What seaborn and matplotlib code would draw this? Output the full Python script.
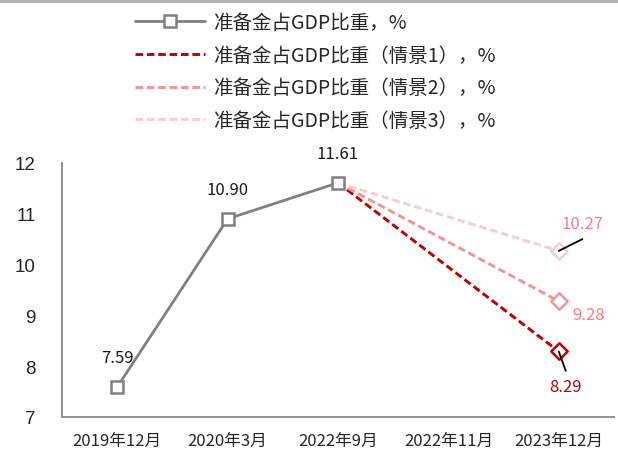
import matplotlib
matplotlib.use("Agg")
import matplotlib.pyplot as plt
from matplotlib.patches import Rectangle
import numpy as np
import pandas as pd
import seaborn as sns

# Periods on the x axis
periods = ["2019年12月", "2020年3月", "2022年9月", "2022年11月", "2023年12月"]

# Reserve gold as share of GDP (%), historical
actual_periods = ["2019年12月", "2020年3月", "2022年9月"]
actual_values = [7.59, 10.90, 11.61]

# Scenario projections for 2023年12月
scenario_names = ["准备金占GDP比重（情景1），%",
                  "准备金占GDP比重（情景2），%",
                  "准备金占GDP比重（情景3），%"]
scenario_end = [8.29, 9.28, 10.27]
scenario_start_period = "2022年9月"
scenario_end_period = "2023年12月"

actual_name = "准备金占GDP比重，%"

CJK = ["Noto Sans CJK SC", "DejaVu Sans"]

sns.set_theme(style="white")
plt.rcParams["font.family"] = CJK
plt.rcParams["axes.unicode_minus"] = False

pos = {p: i for i, p in enumerate(periods)}

df_actual = pd.DataFrame({
    "x": [pos[p] for p in actual_periods],
    "value": actual_values,
})

fig = plt.figure(figsize=(6.18, 4.52), dpi=100)
ax = fig.add_axes([62 / 618, 34 / 452, 552 / 618, 254 / 452])

line_colors = ["#c00000", "#f09494", "#f8cdcf"]
label_colors = ["#c00000", "#ff7c80", "#ff7c80"]
dash = (0, (2.6, 1.3))

# scenario lines (drawn from the last actual value to the projection)
for name, end, col in zip(scenario_names, scenario_end, line_colors):
    d = pd.DataFrame({
        "x": [pos[scenario_start_period], pos[scenario_end_period]],
        "value": [actual_values[-1], end],
    })
    sns.lineplot(data=d, x="x", y="value", ax=ax, color=col, linewidth=2.1,
                 linestyle=dash, label=name, zorder=3)
    sns.scatterplot(data=d.iloc[[1]], x="x", y="value", ax=ax, marker="D",
                    s=70, facecolor="white", edgecolor=col, linewidth=1.8,
                    zorder=5, legend=False)

# historical line
sns.lineplot(data=df_actual, x="x", y="value", ax=ax, color="#808080",
             linewidth=2.0, marker="s", markersize=9, markerfacecolor="white",
             markeredgecolor="#808080", markeredgewidth=1.8,
             label=actual_name, zorder=4)

# value labels on historical points
for x, v in zip(df_actual["x"], df_actual["value"]):
    ax.annotate(f"{v:.2f}", xy=(x, v), xytext=(0, 21), textcoords="offset points",
                ha="center", va="center", fontsize=12, color="#1a1a1a")

# value labels on projections
offsets = [(5, -25), (21.5, -9.5), (17, 20)]
leaders = [(5, -14), None, (17, 8.5)]
xe = pos[scenario_end_period]
for end, off, lead, lc in zip(scenario_end, offsets, leaders, label_colors):
    ax.annotate(f"{end:.2f}", xy=(xe, end), xytext=off, textcoords="offset points",
                ha="center", va="center", fontsize=12, color=lc, zorder=6)
    if lead is not None:
        ax.annotate("", xy=(xe, end), xytext=lead, textcoords="offset points",
                    arrowprops=dict(arrowstyle="-", color="black", lw=1.3,
                                    shrinkA=0, shrinkB=0), zorder=6)

ax.set_xlim(-0.5, len(periods) - 0.5)
ax.set_ylim(7, 12)
ax.set_yticks([7, 8, 9, 10, 11, 12])
ax.set_xticks([i - 0.5 for i in range(len(periods) + 1)], minor=False)
ax.set_xticklabels([])
ax.set_xticks(range(len(periods)), minor=True)
ax.set_xticklabels(periods, minor=True)
ax.set_xlabel("")
ax.set_ylabel("")

for s in ["top", "right"]:
    ax.spines[s].set_visible(False)
for s in ["left", "bottom"]:
    ax.spines[s].set_color("#898989")
    ax.spines[s].set_linewidth(1.3)

ax.tick_params(axis="y", which="major", direction="in", length=5, width=1.3,
               color="#898989", pad=19, labelsize=13.5)
for t in ax.get_yticklabels():
    t.set_family(["Liberation Sans", "DejaVu Sans"])
ax.tick_params(axis="x", which="major", direction="in", length=5, width=1.3,
               color="#898989")
ax.tick_params(axis="x", which="minor", length=0, pad=11, labelsize=12)

# legend, historical series first
h, l = ax.get_legend_handles_labels()
order = [l.index(actual_name)] + [l.index(n) for n in scenario_names]
ax.legend([h[i] for i in order], [l[i] for i in order],
          loc="upper left", bbox_to_anchor=(135 / 618, 1 - 13 / 452),
          bbox_transform=fig.transFigure, frameon=False, fontsize=14,
          handlelength=3.6, handletextpad=0.4, labelspacing=0.6,
          borderpad=0, borderaxespad=0)

# thin band along the top edge
fig.add_artist(Rectangle((0, 1 - 4 / 452), 1, 4 / 452, transform=fig.transFigure,
                         facecolor="#b3b3b3", edgecolor="none"))

fig.savefig("out.png", dpi=100)
